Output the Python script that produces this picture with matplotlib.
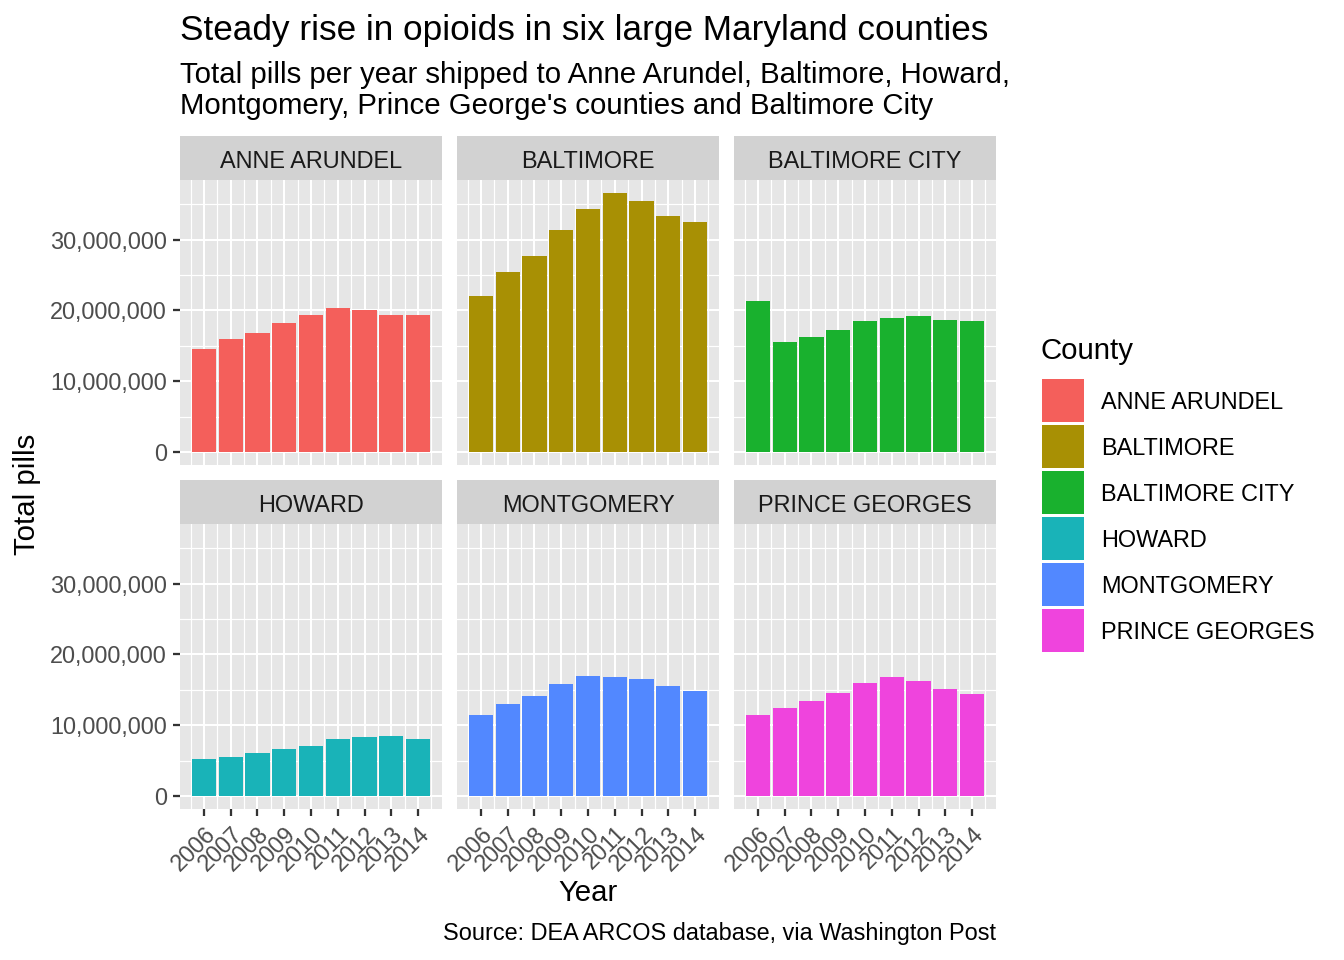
import matplotlib.pyplot as plt
from matplotlib.legend_handler import HandlerPatch
from matplotlib.patches import Patch, Rectangle
from matplotlib.ticker import FuncFormatter, MultipleLocator

years = [2006, 2007, 2008, 2009, 2010, 2011, 2012, 2013, 2014]

counties = ["ANNE ARUNDEL", "BALTIMORE", "BALTIMORE CITY",
            "HOWARD", "MONTGOMERY", "PRINCE GEORGES"]

anne_arundel = [14_500_000, 15_900_000, 16_800_000, 18_300_000, 19_300_000,
                20_400_000, 20_000_000, 19_400_000, 19_300_000]
baltimore = [22_000_000, 25_500_000, 27_700_000, 31_400_000, 34_400_000,
             36_600_000, 35_400_000, 33_400_000, 32_500_000]
baltimore_city = [21_300_000, 15_600_000, 16_300_000, 17_200_000, 18_500_000,
                  18_900_000, 19_200_000, 18_600_000, 18_500_000]
howard = [5_200_000, 5_500_000, 6_100_000, 6_600_000, 7_000_000,
          8_000_000, 8_300_000, 8_500_000, 8_000_000]
montgomery = [11_500_000, 13_000_000, 14_100_000, 15_800_000, 17_000_000,
              16_800_000, 16_600_000, 15_500_000, 14_800_000]
prince_georges = [11_400_000, 12_500_000, 13_400_000, 14_600_000, 15_900_000,
                  16_800_000, 16_300_000, 15_100_000, 14_400_000]

pills = [anne_arundel, baltimore, baltimore_city,
         howard, montgomery, prince_georges]

colors = ["#F45F5B", "#A89004", "#19B12E", "#19B3B8", "#5288FF", "#EF44DD"]

plt.rcParams["font.family"] = ["Liberation Sans", "DejaVu Sans"]

W, H = 1344, 960
fig = plt.figure(figsize=(7, 5), dpi=192)


def box(left, top, width, height):
    return [left / W, 1 - (top + height) / H, width / W, height / H]


col_left = [180, 457, 734]
row_top = [180, 524]
panel_w, panel_h = 262, 285
strip_h = 44

ymax = max(max(p) for p in pills)
xlo = years[0] - 0.45
xhi = years[-1] + 0.45
xpad = 0.05 * (xhi - xlo)

for i, (name, vals, col) in enumerate(zip(counties, pills, colors)):
    r, c = divmod(i, 3)
    ax = fig.add_axes(box(col_left[c], row_top[r], panel_w, panel_h))
    ax.set_facecolor("#E6E6E6")
    ax.bar(years, vals, width=0.9, color=col, zorder=3)
    ax.set_xlim(xlo - xpad, xhi + xpad)
    ax.set_ylim(-0.05 * ymax, 1.05 * ymax)

    ax.xaxis.set_major_locator(MultipleLocator(1))
    ax.xaxis.set_minor_locator(MultipleLocator(0.5))
    ax.yaxis.set_major_locator(MultipleLocator(10_000_000))
    ax.yaxis.set_minor_locator(MultipleLocator(5_000_000))
    ax.set_xticks(years)
    ax.grid(which="major", color="white", linewidth=0.75, zorder=0)
    ax.grid(which="minor", color="white", linewidth=0.45, zorder=0)
    ax.set_axisbelow(True)
    for s in ax.spines.values():
        s.set_visible(False)

    ax.tick_params(which="minor", length=0)
    ax.tick_params(which="major", length=2.75, width=0.85, color="#333333",
                   labelsize=8.8, labelcolor="#4D4D4D", pad=2.2)
    ax.yaxis.set_major_formatter(FuncFormatter(lambda v, p: f"{v:,.0f}"))
    ax.set_xticklabels([str(y) for y in years], rotation=45,
                       ha="right", va="top", rotation_mode="anchor")
    if c != 0:
        ax.tick_params(axis="y", left=False, labelleft=False)
    if r != 1:
        ax.tick_params(axis="x", bottom=False, labelbottom=False)

    # facet strip
    sax = fig.add_axes(box(col_left[c], row_top[r] - strip_h, panel_w, strip_h))
    sax.set_facecolor("#D2D2D2")
    sax.set_xticks([])
    sax.set_yticks([])
    for s in sax.spines.values():
        s.set_visible(False)
    sax.text(0.5, 12 / strip_h, name, ha="center", va="baseline", fontsize=8.8,
             color="#1A1A1A", transform=sax.transAxes)

fig.text(180 / W, 1 - 40 / H, "Steady rise in opioids in six large Maryland counties",
         fontsize=13.2, va="baseline", ha="left")
fig.text(180 / W, 1 - 83 / H,
         "Total pills per year shipped to Anne Arundel, Baltimore, Howard,",
         fontsize=11, va="baseline", ha="left")
fig.text(180 / W, 1 - 114 / H,
         "Montgomery, Prince George's counties and Baltimore City",
         fontsize=11, va="baseline", ha="left")

fig.text(27 / W, 1 - 494 / H, "Total pills", rotation=90,
         fontsize=11, ha="center", va="center")
fig.text(588 / W, 1 - 893 / H, "Year", fontsize=11, ha="center", va="center")
fig.text(996 / W, 1 - 940 / H, "Source: DEA ARCOS database, via Washington Post",
         fontsize=8.8, ha="right", va="baseline")


# legend keys: a bit smaller than their slot so a thin white gap shows
KEY_H = 43 * 72 / 192


def key_patch(legend, orig_handle, xdescent, ydescent, width, height, fontsize):
    y0 = -ydescent + (height - KEY_H) / 2 + 0.375
    return Rectangle((-xdescent, y0), width, KEY_H)


fig.text(1041 / W, 1 - 359 / H, "County", fontsize=11, ha="left", va="baseline")
handles = [Patch(facecolor=col, edgecolor="none") for col in colors]
fig.legend(handles, counties, loc="upper left",
           bbox_to_anchor=(1042 / W, 1 - 378.5 / H), frameon=False,
           fontsize=8.8, handlelength=1.79,
           handleheight=2.639, labelspacing=0, handletextpad=0.72,
           borderpad=0, borderaxespad=0,
           handler_map={Patch: HandlerPatch(patch_func=key_patch)})

fig.savefig("out.png", dpi=192)
